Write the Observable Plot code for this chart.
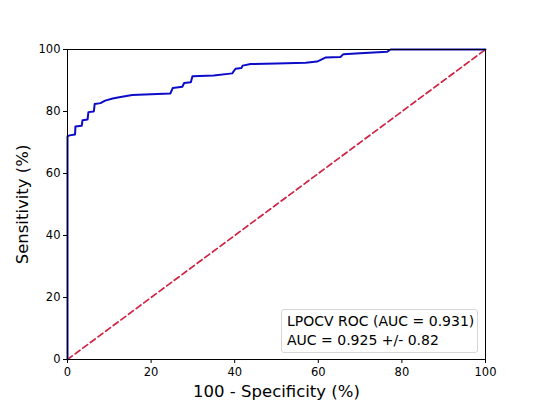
<!DOCTYPE html>
<html>
<head>
<meta charset="utf-8">
<script src="https://cdn.jsdelivr.net/npm/d3@7"></script>
<script src="https://cdn.jsdelivr.net/npm/@observablehq/plot@0.6"></script>
<style>
  body { margin: 0; background: #fff; }
  #wrap { position: relative; width: 540px; height: 405px; font-family: "DejaVu Sans", sans-serif; }
  #legend {
    position: absolute; left: 281px; top: 309px; width: 190px; height: 38px;
    border: 1px solid #d6d6d6; border-radius: 3px; background: rgba(255,255,255,0.85);
    font-size: 14px; line-height: 19px; padding: 2px 0 2px 5px; color: #000;
  }
</style>
</head>
<body>
<div id="wrap"></div>
<script>
// ROC curve points (100 - specificity, sensitivity)
const fpr = [0, 0, 0.5, 1.8, 1.9, 3.4, 3.6, 4.8, 5.0, 6.3, 6.5, 7.9, 9, 10.8, 12.7, 15.5, 20, 24.6, 25.2, 27.5, 27.9, 29.5, 29.9, 35, 39.4, 40.2, 41.6, 41.9, 43.8, 50, 57, 59.7, 61.7, 65.3, 66, 70, 76.5, 77.3, 100];
const tpr = [0, 72, 72.3, 72.6, 75.2, 75.4, 77.2, 77.4, 79.8, 80, 82.4, 82.7, 83.5, 84.2, 84.7, 85.3, 85.6, 85.8, 87.6, 88, 89.2, 89.4, 91.4, 91.6, 92.3, 93.8, 94, 94.8, 95.3, 95.5, 95.7, 96.1, 97.4, 97.6, 98.5, 98.8, 99.3, 100, 100];
const chanceX = [0, 100];
const chanceY = [0, 100];
const ticks = [0, 20, 40, 60, 80, 100];
const xLabel = "100 - Specificity (%)";
const yLabel = "Sensitivity (%)";
const legendLines = ["LPOCV ROC (AUC = 0.931)", "AUC = 0.925 +/- 0.82"];

const roc = fpr.map((x, i) => ({x, y: tpr[i]}));
const chance = chanceX.map((x, i) => ({x, y: chanceY[i]}));

const chart = Plot.plot({
  width: 540,
  height: 405,
  marginLeft: 67,
  marginRight: 55,
  marginTop: 49,
  marginBottom: 46,
  style: {fontFamily: "DejaVu Sans, sans-serif", background: "white", color: "black"},
  x: {domain: [0, 100], label: null},
  y: {domain: [0, 100], label: null},
  marks: [
    Plot.line(chance, {x: "x", y: "y", stroke: "#d02242", strokeWidth: 1.7, strokeDasharray: "6,3.5"}),
    Plot.line(roc, {x: "x", y: "y", stroke: "#0c0cc8", strokeWidth: 2}),
    Plot.frame({stroke: "black", strokeWidth: 1}),
    Plot.axisX(ticks, {tickSize: 4, tickPadding: 4, fontSize: 11.5, label: null, stroke: "black"}),
    Plot.axisY(ticks, {tickSize: 4, tickPadding: 3, fontSize: 11.5, label: null, stroke: "black"}),
    Plot.text([xLabel], {frameAnchor: "bottom", dy: 37, fontSize: 16.5, fill: "black"}),
    Plot.text([yLabel], {frameAnchor: "left", textAnchor: "middle", dx: -45, rotate: -90, fontSize: 16.5, fill: "black"})
  ]
});

const wrap = document.getElementById("wrap");
wrap.appendChild(chart);
const legend = document.createElement("div");
legend.id = "legend";
legend.innerHTML = legendLines.map(t => `<div>${t}</div>`).join("");
wrap.appendChild(legend);
</script>
</body>
</html>
